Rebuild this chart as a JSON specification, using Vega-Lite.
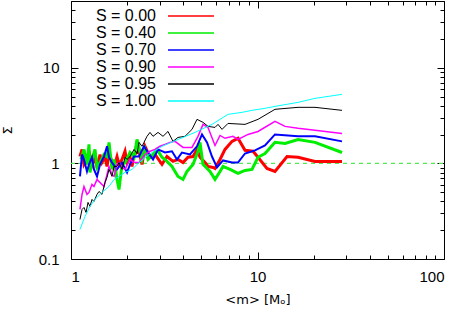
{
 "$schema": "https://vega.github.io/schema/vega-lite/v6.json",
 "width": 373, "height": 258,
 "autosize": "none",
 "padding": {"left": 71, "top": 1, "right": 15, "bottom": 50},
 "background": "white",
 "config": {"view": {"stroke": null}, "font": "Liberation Sans"},
 "datasets": {
  "ref": [{"m": 1, "v": 1}, {"m": 100, "v": 1}],
  "series": [
   {"s":"S = 0.00","m":1.117,"v":1.18},{"s":"S = 0.00","m":1.146,"v":1.40},{"s":"S = 0.00","m":1.174,"v":0.976},{"s":"S = 0.00","m":1.218,"v":1.10},{"s":"S = 0.00","m":1.249,"v":1.34},{"s":"S = 0.00","m":1.296,"v":0.953},{"s":"S = 0.00","m":1.345,"v":1.16},{"s":"S = 0.00","m":1.379,"v":0.908},{"s":"S = 0.00","m":1.431,"v":1.24},{"s":"S = 0.00","m":1.466,"v":1.02},{"s":"S = 0.00","m":1.522,"v":1.16},{"s":"S = 0.00","m":1.560,"v":0.930},{"s":"S = 0.00","m":1.599,"v":1.27},{"s":"S = 0.00","m":1.659,"v":1.05},{"s":"S = 0.00","m":1.701,"v":0.908},{"s":"S = 0.00","m":1.765,"v":1.18},{"s":"S = 0.00","m":1.809,"v":0.976},{"s":"S = 0.00","m":1.877,"v":1.10},{"s":"S = 0.00","m":1.948,"v":1.34},{"s":"S = 0.00","m":1.997,"v":1.02},{"s":"S = 0.00","m":2.072,"v":1.16},{"s":"S = 0.00","m":2.124,"v":0.930},{"s":"S = 0.00","m":2.177,"v":1.24},{"s":"S = 0.00","m":2.315,"v":1.34},{"s":"S = 0.00","m":2.403,"v":0.976},{"s":"S = 0.00","m":2.493,"v":1.51},{"s":"S = 0.00","m":2.652,"v":1.16},{"s":"S = 0.00","m":2.821,"v":1.24},{"s":"S = 0.00","m":3.075,"v":0.976},{"s":"S = 0.00","m":3.271,"v":1.18},{"s":"S = 0.00","m":3.523,"v":1.05},{"s":"S = 0.00","m":3.748,"v":1.10},{"s":"S = 0.00","m":3.986,"v":1.02},{"s":"S = 0.00","m":4.240,"v":1.16},{"s":"S = 0.00","m":4.510,"v":1.18},{"s":"S = 0.00","m":4.738,"v":1.40},{"s":"S = 0.00","m":4.917,"v":1.16},{"s":"S = 0.00","m":5.231,"v":1.02},{"s":"S = 0.00","m":5.428,"v":0.930},{"s":"S = 0.00","m":5.773,"v":0.908},{"s":"S = 0.00","m":5.918,"v":0.886},{"s":"S = 0.00","m":6.296,"v":1.10},{"s":"S = 0.00","m":6.695,"v":1.40},{"s":"S = 0.00","m":7.300,"v":1.70},{"s":"S = 0.00","m":7.859,"v":1.83},{"s":"S = 0.00","m":8.570,"v":1.37},{"s":"S = 0.00","m":9.461,"v":1.34},{"s":"S = 0.00","m":10.06,"v":1.16},{"s":"S = 0.00","m":11.24,"v":0.886},{"s":"S = 0.00","m":12.41,"v":0.824},{"s":"S = 0.00","m":14.40,"v":1.18},{"s":"S = 0.00","m":16.49,"v":1.16},{"s":"S = 0.00","m":20.34,"v":1.05},{"s":"S = 0.00","m":28.39,"v":1.05},
   {"s":"S = 0.40","m":1.131,"v":1.10},{"s":"S = 0.40","m":1.174,"v":1.40},{"s":"S = 0.40","m":1.218,"v":0.976},{"s":"S = 0.40","m":1.249,"v":1.58},{"s":"S = 0.40","m":1.264,"v":0.805},{"s":"S = 0.40","m":1.296,"v":1.10},{"s":"S = 0.40","m":1.345,"v":1.40},{"s":"S = 0.40","m":1.379,"v":0.908},{"s":"S = 0.40","m":1.431,"v":1.02},{"s":"S = 0.40","m":1.503,"v":1.24},{"s":"S = 0.40","m":1.560,"v":1.18},{"s":"S = 0.40","m":1.599,"v":1.66},{"s":"S = 0.40","m":1.659,"v":0.865},{"s":"S = 0.40","m":1.701,"v":1.10},{"s":"S = 0.40","m":1.765,"v":0.680},{"s":"S = 0.40","m":1.809,"v":0.534},{"s":"S = 0.40","m":1.877,"v":0.976},{"s":"S = 0.40","m":1.948,"v":1.02},{"s":"S = 0.40","m":2.072,"v":1.30},{"s":"S = 0.40","m":2.177,"v":1.16},{"s":"S = 0.40","m":2.259,"v":1.78},{"s":"S = 0.40","m":2.315,"v":1.47},{"s":"S = 0.40","m":2.403,"v":1.10},{"s":"S = 0.40","m":2.493,"v":1.40},{"s":"S = 0.40","m":2.588,"v":1.10},{"s":"S = 0.40","m":2.753,"v":1.24},{"s":"S = 0.40","m":2.892,"v":1.40},{"s":"S = 0.40","m":3.075,"v":1.16},{"s":"S = 0.40","m":3.191,"v":1.10},{"s":"S = 0.40","m":3.479,"v":0.930},{"s":"S = 0.40","m":3.748,"v":0.731},{"s":"S = 0.40","m":3.986,"v":0.680},{"s":"S = 0.40","m":4.188,"v":0.824},{"s":"S = 0.40","m":4.510,"v":0.976},{"s":"S = 0.40","m":4.797,"v":1.34},{"s":"S = 0.40","m":4.917,"v":1.66},{"s":"S = 0.40","m":5.103,"v":0.976},{"s":"S = 0.40","m":5.564,"v":0.824},{"s":"S = 0.40","m":5.918,"v":0.680},{"s":"S = 0.40","m":6.296,"v":0.824},{"s":"S = 0.40","m":6.531,"v":0.930},{"s":"S = 0.40","m":7.121,"v":0.865},{"s":"S = 0.40","m":7.859,"v":0.786},{"s":"S = 0.40","m":8.570,"v":0.845},{"s":"S = 0.40","m":9.344,"v":0.865},{"s":"S = 0.40","m":10.06,"v":1.16},{"s":"S = 0.40","m":10.97,"v":1.27},{"s":"S = 0.40","m":12.41,"v":1.66},{"s":"S = 0.40","m":14.05,"v":1.62},{"s":"S = 0.40","m":16.49,"v":1.78},{"s":"S = 0.40","m":20.34,"v":1.66},{"s":"S = 0.40","m":28.39,"v":1.30},
   {"s":"S = 0.70","m":1.117,"v":0.731},{"s":"S = 0.70","m":1.146,"v":1.24},{"s":"S = 0.70","m":1.174,"v":1.10},{"s":"S = 0.70","m":1.218,"v":0.824},{"s":"S = 0.70","m":1.249,"v":0.976},{"s":"S = 0.70","m":1.296,"v":1.16},{"s":"S = 0.70","m":1.328,"v":0.865},{"s":"S = 0.70","m":1.379,"v":0.731},{"s":"S = 0.70","m":1.431,"v":0.976},{"s":"S = 0.70","m":1.503,"v":1.18},{"s":"S = 0.70","m":1.560,"v":1.51},{"s":"S = 0.70","m":1.599,"v":1.16},{"s":"S = 0.70","m":1.659,"v":1.02},{"s":"S = 0.70","m":1.765,"v":0.865},{"s":"S = 0.70","m":1.877,"v":1.02},{"s":"S = 0.70","m":1.997,"v":0.805},{"s":"S = 0.70","m":2.072,"v":0.976},{"s":"S = 0.70","m":2.177,"v":1.18},{"s":"S = 0.70","m":2.315,"v":1.18},{"s":"S = 0.70","m":2.462,"v":1.51},{"s":"S = 0.70","m":2.588,"v":1.30},{"s":"S = 0.70","m":2.753,"v":1.10},{"s":"S = 0.70","m":2.928,"v":1.40},{"s":"S = 0.70","m":3.191,"v":1.30},{"s":"S = 0.70","m":3.479,"v":1.34},{"s":"S = 0.70","m":3.702,"v":1.10},{"s":"S = 0.70","m":3.937,"v":1.30},{"s":"S = 0.70","m":4.345,"v":1.24},{"s":"S = 0.70","m":4.738,"v":1.51},{"s":"S = 0.70","m":5.040,"v":2.01},{"s":"S = 0.70","m":5.362,"v":1.66},{"s":"S = 0.70","m":5.702,"v":1.18},{"s":"S = 0.70","m":6.066,"v":0.908},{"s":"S = 0.70","m":6.531,"v":1.075},{"s":"S = 0.70","m":7.300,"v":1.02},{"s":"S = 0.70","m":7.859,"v":1.02},{"s":"S = 0.70","m":8.570,"v":1.27},{"s":"S = 0.70","m":9.696,"v":1.37},{"s":"S = 0.70","m":10.97,"v":1.54},{"s":"S = 0.70","m":12.41,"v":2.01},{"s":"S = 0.70","m":16.49,"v":1.92},{"s":"S = 0.70","m":20.34,"v":1.92},{"s":"S = 0.70","m":28.39,"v":1.70},
   {"s":"S = 0.90","m":1.117,"v":0.330},{"s":"S = 0.90","m":1.146,"v":0.474},{"s":"S = 0.90","m":1.174,"v":0.574},{"s":"S = 0.90","m":1.218,"v":0.474},{"s":"S = 0.90","m":1.249,"v":0.497},{"s":"S = 0.90","m":1.296,"v":0.603},{"s":"S = 0.90","m":1.328,"v":0.574},{"s":"S = 0.90","m":1.379,"v":0.680},{"s":"S = 0.90","m":1.413,"v":0.648},{"s":"S = 0.90","m":1.466,"v":0.603},{"s":"S = 0.90","m":1.503,"v":0.574},{"s":"S = 0.90","m":1.560,"v":0.767},{"s":"S = 0.90","m":1.599,"v":0.930},{"s":"S = 0.90","m":1.659,"v":0.767},{"s":"S = 0.90","m":1.701,"v":0.731},{"s":"S = 0.90","m":1.765,"v":0.976},{"s":"S = 0.90","m":1.809,"v":1.02},{"s":"S = 0.90","m":1.877,"v":0.908},{"s":"S = 0.90","m":1.948,"v":0.865},{"s":"S = 0.90","m":2.072,"v":1.10},{"s":"S = 0.90","m":2.177,"v":1.02},{"s":"S = 0.90","m":2.315,"v":1.02},{"s":"S = 0.90","m":2.493,"v":1.24},{"s":"S = 0.90","m":2.652,"v":1.34},{"s":"S = 0.90","m":2.821,"v":1.40},{"s":"S = 0.90","m":3.000,"v":1.51},{"s":"S = 0.90","m":3.191,"v":1.58},{"s":"S = 0.90","m":3.395,"v":1.66},{"s":"S = 0.90","m":3.611,"v":1.70},{"s":"S = 0.90","m":3.986,"v":1.47},{"s":"S = 0.90","m":4.454,"v":1.47},{"s":"S = 0.90","m":4.797,"v":1.92},{"s":"S = 0.90","m":5.103,"v":2.56},{"s":"S = 0.90","m":5.428,"v":2.38},{"s":"S = 0.90","m":5.918,"v":1.54},{"s":"S = 0.90","m":6.296,"v":1.96},{"s":"S = 0.90","m":6.695,"v":1.83},{"s":"S = 0.90","m":7.390,"v":1.92},{"s":"S = 0.90","m":7.859,"v":1.78},{"s":"S = 0.90","m":8.894,"v":2.01},{"s":"S = 0.90","m":10.06,"v":2.16},{"s":"S = 0.90","m":12.41,"v":2.75},{"s":"S = 0.90","m":14.05,"v":2.44},{"s":"S = 0.90","m":16.49,"v":2.33},{"s":"S = 0.90","m":20.34,"v":2.22},{"s":"S = 0.90","m":28.39,"v":2.06},
   {"s":"S = 0.95","m":1.117,"v":0.259},{"s":"S = 0.95","m":1.146,"v":0.330},{"s":"S = 0.95","m":1.174,"v":0.346},{"s":"S = 0.95","m":1.204,"v":0.307},{"s":"S = 0.95","m":1.234,"v":0.391},{"s":"S = 0.95","m":1.264,"v":0.355},{"s":"S = 0.95","m":1.296,"v":0.420},{"s":"S = 0.95","m":1.328,"v":0.400},{"s":"S = 0.95","m":1.379,"v":0.474},{"s":"S = 0.95","m":1.413,"v":0.509},{"s":"S = 0.95","m":1.466,"v":0.474},{"s":"S = 0.95","m":1.522,"v":0.633},{"s":"S = 0.95","m":1.560,"v":0.714},{"s":"S = 0.95","m":1.599,"v":0.865},{"s":"S = 0.95","m":1.659,"v":0.731},{"s":"S = 0.95","m":1.701,"v":0.930},{"s":"S = 0.95","m":1.765,"v":0.930},{"s":"S = 0.95","m":1.809,"v":1.02},{"s":"S = 0.95","m":1.877,"v":0.865},{"s":"S = 0.95","m":1.948,"v":1.16},{"s":"S = 0.95","m":1.997,"v":1.10},{"s":"S = 0.95","m":2.072,"v":1.18},{"s":"S = 0.95","m":2.177,"v":1.40},{"s":"S = 0.95","m":2.259,"v":1.27},{"s":"S = 0.95","m":2.315,"v":1.66},{"s":"S = 0.95","m":2.403,"v":1.51},{"s":"S = 0.95","m":2.462,"v":1.66},{"s":"S = 0.95","m":2.556,"v":1.92},{"s":"S = 0.95","m":2.652,"v":2.11},{"s":"S = 0.95","m":2.753,"v":1.92},{"s":"S = 0.95","m":2.928,"v":2.11},{"s":"S = 0.95","m":3.114,"v":1.92},{"s":"S = 0.95","m":3.312,"v":2.16},{"s":"S = 0.95","m":3.523,"v":1.70},{"s":"S = 0.95","m":3.748,"v":1.87},{"s":"S = 0.95","m":4.087,"v":1.92},{"s":"S = 0.95","m":4.454,"v":2.27},{"s":"S = 0.95","m":4.738,"v":2.89},{"s":"S = 0.95","m":5.103,"v":2.69},{"s":"S = 0.95","m":5.428,"v":2.44},{"s":"S = 0.95","m":5.918,"v":2.38},{"s":"S = 0.95","m":6.142,"v":2.56},{"s":"S = 0.95","m":6.454,"v":2.27},{"s":"S = 0.95","m":6.947,"v":2.62},{"s":"S = 0.95","m":8.570,"v":2.56},{"s":"S = 0.95","m":10.06,"v":2.89},{"s":"S = 0.95","m":12.41,"v":3.68},{"s":"S = 0.95","m":16.49,"v":3.86},{"s":"S = 0.95","m":20.34,"v":3.86},{"s":"S = 0.95","m":28.39,"v":3.59},
   {"s":"S = 1.00","m":1.117,"v":0.204},{"s":"S = 1.00","m":1.189,"v":0.279},{"s":"S = 1.00","m":1.264,"v":0.355},{"s":"S = 1.00","m":1.345,"v":0.420},{"s":"S = 1.00","m":1.466,"v":0.497},{"s":"S = 1.00","m":1.599,"v":0.574},{"s":"S = 1.00","m":1.701,"v":0.680},{"s":"S = 1.00","m":1.809,"v":0.731},{"s":"S = 1.00","m":1.948,"v":0.805},{"s":"S = 1.00","m":2.124,"v":0.865},{"s":"S = 1.00","m":2.315,"v":1.02},{"s":"S = 1.00","m":2.620,"v":1.24},{"s":"S = 1.00","m":3.075,"v":1.51},{"s":"S = 1.00","m":3.748,"v":1.78},{"s":"S = 1.00","m":4.622,"v":2.11},{"s":"S = 1.00","m":5.702,"v":2.56},{"s":"S = 1.00","m":6.947,"v":3.26},{"s":"S = 1.00","m":8.258,"v":3.42},{"s":"S = 1.00","m":9.344,"v":3.59},{"s":"S = 1.00","m":10.97,"v":3.77},{"s":"S = 1.00","m":12.41,"v":3.95},{"s":"S = 1.00","m":16.49,"v":4.35},{"s":"S = 1.00","m":20.34,"v":4.79},{"s":"S = 1.00","m":28.39,"v":5.28}
  ]
 },
 "layer": [
  {
   "data": {"name": "ref"},
   "mark": {"type": "line", "stroke": "#55e855", "strokeDash": [4, 4], "strokeWidth": 1.2, "clip": true},
   "encoding": {
    "x": {"field": "m", "type": "quantitative", "scale": {"type": "log", "domain": [1, 100], "nice": false},
     "axis": {"orient": "top", "values": [1,2,3,4,5,6,7,8,9,10,20,30,40,50,60,70,80,90,100], "labels": false, "title": null, "grid": false, "domainColor": "black", "tickColor": "black",
      "tickSize": {"condition": {"test": "datum.value == 1 || datum.value == 10 || datum.value == 100", "value": -7}, "value": -4}}},
    "y": {"field": "v", "type": "quantitative", "scale": {"type": "log", "domain": [0.1, 50], "nice": false},
     "axis": {"orient": "right", "values": [0.1,0.2,0.3,0.4,0.5,0.6,0.7,0.8,0.9,1,2,3,4,5,6,7,8,9,10,20,30,40,50], "labels": false, "title": null, "grid": false, "domainColor": "black", "tickColor": "black",
      "tickSize": {"condition": {"test": "datum.value == 0.1 || datum.value == 1 || datum.value == 10", "value": -7}, "value": -4}}}
   }
  },
  {
   "data": {"name": "series"},
   "mark": {"type": "line", "clip": true},
   "encoding": {
    "x": {"field": "m", "type": "quantitative", "scale": {"type": "log", "domain": [1, 100], "nice": false},
     "axis": {"orient": "bottom", "values": [1,2,3,4,5,6,7,8,9,10,20,30,40,50,60,70,80,90,100],
      "labelExpr": "datum.value == 1 ? '1' : datum.value == 10 ? '10' : datum.value == 100 ? '100' : ''",
      "grid": false, "domainColor": "black", "tickColor": "black", "labelColor": "black", "labelFontSize": 15, "labelPadding": 17,
      "tickSize": {"condition": {"test": "datum.value == 1 || datum.value == 10 || datum.value == 100", "value": -7}, "value": -4},
      "title": "<m> [Mₒ]", "titleFont": "DejaVu Sans", "titleFontSize": 13, "titleFontWeight": "normal", "titleColor": "black", "titleY": 40, "titleBaseline": "middle"}},
    "y": {"field": "v", "type": "quantitative", "scale": {"type": "log", "domain": [0.1, 50], "nice": false},
     "axis": {"orient": "left", "values": [0.1,0.2,0.3,0.4,0.5,0.6,0.7,0.8,0.9,1,2,3,4,5,6,7,8,9,10,20,30,40,50],
      "labelExpr": "datum.value == 0.1 ? '0.1' : datum.value == 1 ? '1' : datum.value == 10 ? '10' : ''",
      "grid": false, "domainColor": "black", "tickColor": "black", "labelColor": "black", "labelFontSize": 15, "labelPadding": 19,
      "tickSize": {"condition": {"test": "datum.value == 0.1 || datum.value == 1 || datum.value == 10", "value": -7}, "value": -4},
      "title": "Σ", "titleFont": "DejaVu Sans", "titleFontSize": 13, "titleFontWeight": "normal", "titleColor": "black", "titlePadding": 24}},
    "color": {"field": "s", "type": "nominal",
     "scale": {"domain": ["S = 0.00","S = 0.40","S = 0.70","S = 0.90","S = 0.95","S = 1.00"], "range": ["#ff0000","#00ee00","#0000ff","#ff00ff","#000000","#00ffff"]},
     "legend": {"orient": "none", "legendX": 111, "legendY": 6, "title": null, "symbolType": "M-2.875,0H2.875", "symbolSize": 256, "symbolStrokeWidth": 1.5, "symbolFillColor": "transparent",
      "labelFontSize": 16, "labelFont": "Liberation Sans", "labelColor": "black", "labelAlign": "right", "labelOffset": -44, "labelLimit": 0, "rowPadding": 0, "padding": 0,
      "encode": {"symbols": {"enter": {"strokeWidth": {"value": 1.5}}, "update": {"strokeWidth": {"value": 1.5}}}}}},
    "strokeWidth": {"condition": [{"test": "datum.s == 'S = 0.00' || datum.s == 'S = 0.40'", "value": 3}, {"test": "datum.s == 'S = 0.70'", "value": 2}, {"test": "datum.s == 'S = 0.90'", "value": 1.5}], "value": 1}
   }
  }
 ],
 "resolve": {"axis": {"x": "independent", "y": "independent"}}
}
